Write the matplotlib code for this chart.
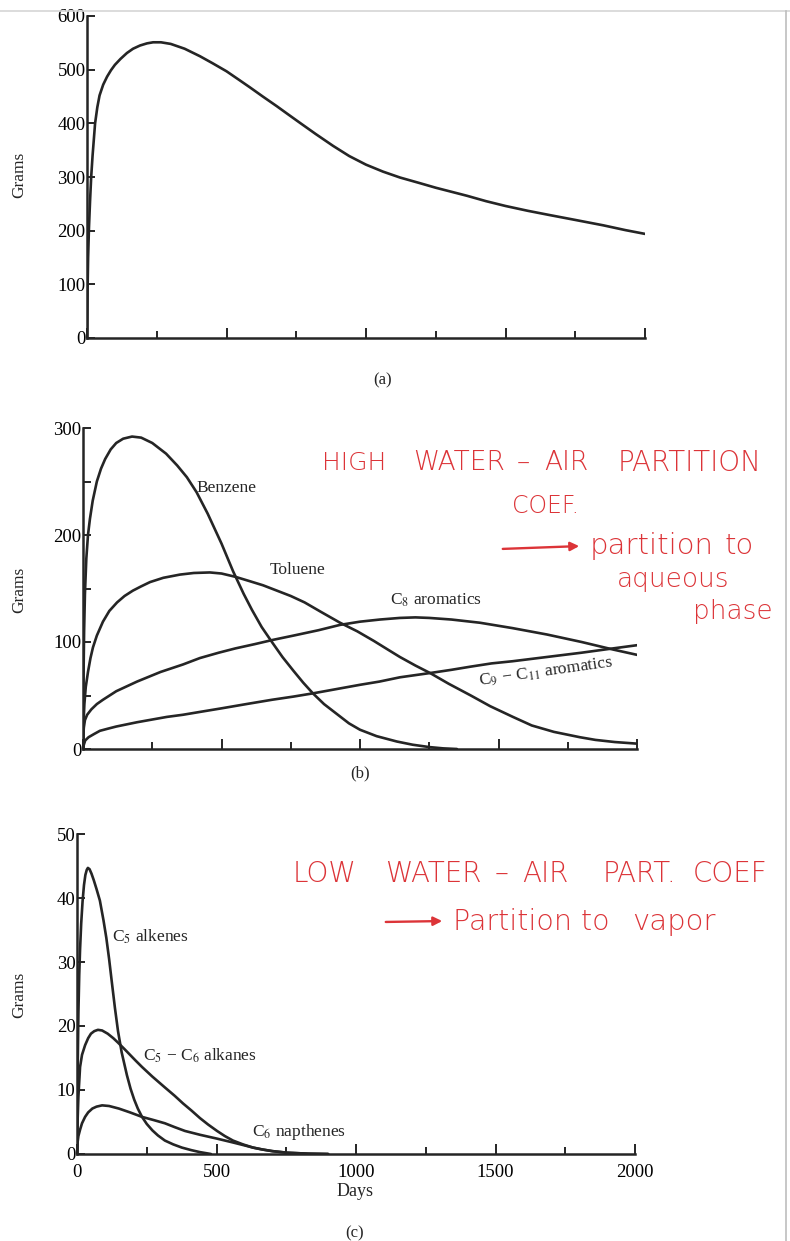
import matplotlib
matplotlib.use("Agg")
import matplotlib.pyplot as plt
from matplotlib.patches import FancyArrowPatch
from matplotlib.lines import Line2D
from matplotlib.ticker import MultipleLocator

plt.rcParams['font.family'] = ['Liberation Serif', 'DejaVu Serif']
plt.rcParams['mathtext.fontset'] = 'stix'

# ---------------- data ----------------
# (a) total mass
a_days = [0, 2, 4, 7, 11, 15, 20, 29, 37, 45, 58, 72, 86, 100, 120, 143, 165, 190, 215, 237,
          265, 300, 350, 405, 450, 500, 545, 584, 630, 680, 720, 763, 820, 882, 940, 1000,
          1061, 1122, 1190, 1250, 1362, 1430, 1500, 1580, 1659, 1750, 1850, 1930, 2000]
a_grams = [0, 90, 150, 205, 256, 300, 340, 400, 430, 452, 472, 487, 499, 509, 520, 531, 539,
           545, 549, 551, 551, 548, 539, 525, 512, 497, 481, 467, 450, 432, 417, 401, 380, 358,
           339, 323, 310, 299, 289, 280, 265, 255, 246, 237, 229, 220, 210, 201, 194]

# (b) aromatics
benz_days = [0, 2, 4, 7, 12, 18, 25, 35, 50, 65, 80, 100, 120, 145, 177, 210, 250, 300, 340,
             375, 410, 450, 500, 542, 580, 610, 645, 682, 720, 760, 795, 830, 870, 920, 960,
             1000, 1060, 1133, 1190, 1250, 1300, 1350]
benz_grams = [0, 70, 110, 145, 178, 200, 215, 232, 250, 262, 271, 280, 286, 290, 292, 291, 286,
              276, 265, 254, 240, 220, 192, 166, 145, 130, 114, 100, 86, 73, 62, 52, 42, 32, 24,
              18, 12, 7, 4, 1.8, 0.6, 0]

tol_days = [0, 2, 5, 10, 18, 27, 36, 50, 72, 95, 123, 150, 180, 210, 242, 290, 350, 400, 458,
            500, 549, 600, 650, 700, 750, 800, 860, 928, 990, 1050, 1100, 1144, 1200, 1253,
            1320, 1400, 1470, 1552, 1620, 1700, 1794, 1850, 1920, 2000]
tol_grams = [0, 25, 42, 58, 72, 85, 95, 106, 119, 129, 137, 143, 148, 152, 156, 160, 163, 164.5,
             165, 164, 161, 157, 153, 148, 143, 137, 128, 118, 110, 101, 93, 86, 78, 71,
             61, 50, 40, 30, 22, 16, 11, 8.5, 6.5, 5]

c8_days = [0, 1, 3, 7, 15, 30, 50, 72, 120, 195, 280, 361, 422, 490, 550, 620, 686, 760, 850,
           928, 1000, 1072, 1144, 1200, 1250, 1330, 1433, 1550, 1675, 1800, 1913, 2000]
c8_grams = [0, 12, 20, 27, 32, 37, 42, 46, 54, 63, 72, 79, 85, 90, 94, 98, 102, 106, 111,
            116, 119, 121, 122.5, 123, 122.5, 121, 118, 113, 107, 100, 93, 88]

c911_days = [0, 3, 8, 20, 40, 61, 90, 120, 195, 303, 361, 430, 500, 590, 682, 760, 830, 915,
             1000, 1070, 1144, 1253, 1330, 1400, 1475, 1550, 1675, 1800, 1913, 2000]
c911_grams = [0, 4, 8, 11, 14, 17, 19, 21, 25, 30, 32, 35, 38, 42, 46, 49, 52, 56,
              60, 63, 67, 71, 74, 77, 80, 82, 86, 90, 94, 97]

# (c) volatile fractions
alk_days = [0, 2, 5, 8, 11, 15, 20, 25, 30, 35, 39, 45, 52, 60, 70, 82, 95, 105, 115, 125, 136,
            147, 160, 179, 192, 205, 218, 233, 250, 270, 290, 315, 345, 376, 410, 440, 480]
alk_grams = [0, 12, 22, 28, 32, 36, 39.5, 42, 43.6, 44.4, 44.7, 44.5, 43.8, 42.8, 41.4, 39.6,
             36.5, 33.8, 30.5, 26.8, 22.8, 19.2, 15.9, 12.3, 10.2, 8.5, 7.1, 5.8, 4.7, 3.7, 2.9,
             2.1, 1.5, 1.0, 0.6, 0.3, 0]

alka_days = [0, 2, 5, 11, 18, 29, 40, 50, 62, 75, 90, 110, 130, 147, 170, 190, 210, 233, 270,
             315, 350, 380, 410, 441, 470, 502, 530, 559, 595, 631, 665, 700, 753, 830, 900]
alka_grams = [0, 5, 9, 13.6, 15.5, 17, 18.1, 18.8, 19.2, 19.4, 19.3, 18.8, 18.1, 17.4, 16.4,
              15.5, 14.6, 13.6, 12.1, 10.4, 9.1, 7.9, 6.8, 5.6, 4.6, 3.6, 2.8, 2.1, 1.5, 1.0,
              0.7, 0.45, 0.2, 0.05, 0]

nap_days = [0, 2, 5, 11, 18, 29, 40, 55, 70, 90, 115, 150, 190, 233, 275, 315, 350, 387, 441,
            502, 559, 600, 631, 665, 700, 753, 830, 900]
nap_grams = [0, 1.8, 2.8, 3.8, 4.8, 5.8, 6.5, 7.1, 7.4, 7.6, 7.5, 7.1, 6.5, 5.8, 5.3, 4.8, 4.2,
             3.6, 3.0, 2.4, 1.8, 1.35, 1.0, 0.7, 0.45, 0.2, 0.05, 0]

# ---------------- layout ----------------
W, H = 790, 1241
fig = plt.figure(figsize=(W / 100, H / 100), dpi=100)
fig.patch.set_facecolor('white')


def rect(l, r, b, t):
    return [l / W, 1 - b / H, (r - l) / W, (b - t) / H]


def fx(px):
    return px / W


def fy(py):
    return 1 - py / H


INK = '#252525'
RED = '#dc3438'


def style(ax, ymax, ymajor, yminor=None, xlabels=False):
    ax.set_xlim(0, 2000)
    ax.set_ylim(0, ymax)
    for s in ('top', 'right'):
        ax.spines[s].set_visible(False)
    for s in ('left', 'bottom'):
        ax.spines[s].set_linewidth(1.8)
        ax.spines[s].set_color(INK)
    ax.xaxis.set_major_locator(MultipleLocator(500))
    ax.xaxis.set_minor_locator(MultipleLocator(250))
    ax.yaxis.set_major_locator(MultipleLocator(ymajor))
    ax.yaxis.set_minor_locator(MultipleLocator(yminor if yminor else ymajor))
    ax.tick_params(axis='x', which='major', direction='in', length=7, width=1.4,
                   color=INK, labelsize=13.5, pad=7, labelbottom=xlabels)
    ax.tick_params(axis='x', which='minor', direction='in', length=5, width=1.4, color=INK)
    ax.tick_params(axis='y', which='both', direction='in', length=6, width=1.4,
                   color=INK, labelsize=13.5, pad=1)
    ax.set_facecolor('none')


def curve(ax, x, y):
    ax.plot(x, y, color=INK, lw=1.9, solid_joinstyle='round', solid_capstyle='round')


# (a)
ax_a = fig.add_axes(rect(87, 645, 338, 16))
style(ax_a, 600, 100)
curve(ax_a, a_days, a_grams)

# (b)
ax_b = fig.add_axes(rect(83, 637, 749, 428))
style(ax_b, 300, 100, 50)
for d, g in ((benz_days, benz_grams), (tol_days, tol_grams),
             (c8_days, c8_grams), (c911_days, c911_grams)):
    curve(ax_b, d, g)
lab = dict(fontsize=12.5, color=INK, va='center', ha='left')
ax_b.text(408, 244, 'Benzene', **lab)
ax_b.text(675, 167, 'Toluene', **lab)
ax_b.text(1108, 139, 'C$_8$ aromatics', **lab)
ax_b.text(1671, 72, 'C$_9$ \u2212 C$_{11}$ aromatics', fontsize=12.5, color=INK,
          va='center', ha='center', rotation=8, rotation_mode='anchor')

# (c)
ax_c = fig.add_axes(rect(77, 635, 1154, 834))
style(ax_c, 50, 10, xlabels=True)
for d, g in ((alk_days, alk_grams), (alka_days, alka_grams), (nap_days, nap_grams)):
    curve(ax_c, d, g)
ax_c.text(125, 34, 'C$_5$ alkenes', **lab)
ax_c.text(237, 15.3, 'C$_5$ \u2212 C$_6$ alkanes', **lab)
ax_c.text(627, 3.4, 'C$_6$ napthenes', **lab)

# axis titles and panel labels
for yy in (175, 590, 995):
    fig.text(fx(19), fy(yy), 'Grams', rotation=90, fontsize=12.5, color=INK,
             ha='center', va='center')
fig.text(fx(383), fy(380), '(a)', fontsize=12, color=INK, ha='center', va='center')
fig.text(fx(360), fy(773), '(b)', fontsize=12, color=INK, ha='center', va='center')
fig.text(fx(355), fy(1191), 'Days', fontsize=13, color=INK, ha='center', va='center')
fig.text(fx(355), fy(1233), '(c)', fontsize=12, color=INK, ha='center', va='center')

# handwritten red notes
hw = dict(family=['DejaVu Sans'], fontweight='light', color=RED, va='center', ha='left')
fig.text(fx(322), fy(463), 'HIGH', fontsize=18, **hw)
fig.text(fx(413), fy(463), 'WATER', fontsize=19, **hw)
fig.text(fx(517), fy(463), '\u2013', fontsize=19, **hw)
fig.text(fx(544), fy(463), 'AIR', fontsize=19, **hw)
fig.text(fx(618), fy(463), 'PARTITION', fontsize=20, **hw)
fig.text(fx(512), fy(506), 'COEF.', fontsize=17, **hw)
fig.add_artist(FancyArrowPatch((fx(500), fy(549)), (fx(582), fy(546)),
                               transform=fig.transFigure, arrowstyle='-|>',
                               mutation_scale=13, color=RED, lw=1.7))
fig.text(fx(590), fy(546), 'partition', fontsize=21, **hw)
fig.text(fx(724), fy(546), 'to', fontsize=21, **hw)
fig.text(fx(617), fy(580), 'aqueous', fontsize=19, **hw)
fig.text(fx(693), fy(612), 'phase', fontsize=19, **hw)

fig.text(fx(293), fy(874), 'LOW', fontsize=20, **hw)
fig.text(fx(385), fy(874), 'WATER', fontsize=20, **hw)
fig.text(fx(495), fy(874), '\u2013', fontsize=20, **hw)
fig.text(fx(522), fy(874), 'AIR', fontsize=20, **hw)
fig.text(fx(603), fy(874), 'PART.', fontsize=20, **hw)
fig.text(fx(693), fy(874), 'COEF', fontsize=20, **hw)
fig.add_artist(FancyArrowPatch((fx(383), fy(922)), (fx(445), fy(921)),
                               transform=fig.transFigure, arrowstyle='-|>',
                               mutation_scale=13, color=RED, lw=1.7))
fig.text(fx(453), fy(922), 'Partition to', fontsize=20.5, **hw)
fig.text(fx(632), fy(922), 'vapor', fontsize=21, **hw)

# scan edges
fig.add_artist(Line2D([0, 1], [fy(11), fy(11)], transform=fig.transFigure,
                      color='#d5d5d5', lw=1.2))
fig.add_artist(Line2D([fx(786), fx(786)], [0, fy(11)], transform=fig.transFigure,
                      color='#bdbdbd', lw=1.2))

fig.savefig('out.png', dpi=100, facecolor='white')
